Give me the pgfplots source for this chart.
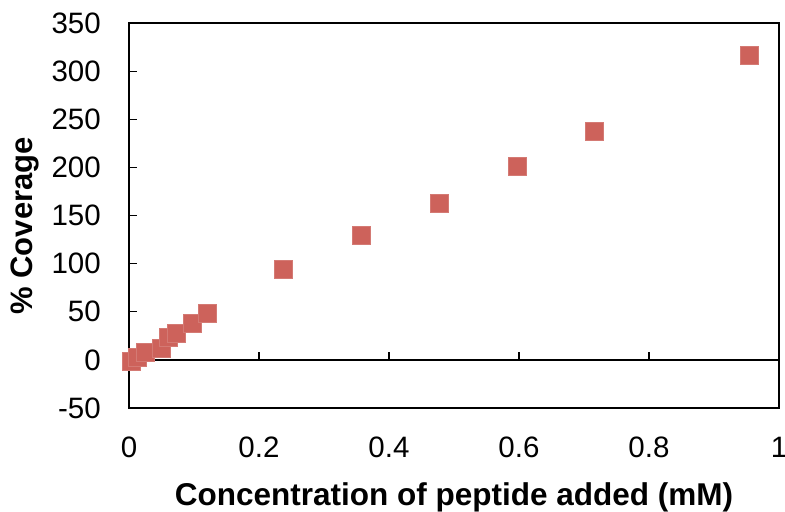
\documentclass[border=0pt]{standalone}
\usepackage{pgfplots}
\pgfplotsset{compat=1.18}
\usepackage{fontspec}
\setmainfont{Liberation Sans}
\definecolor{markred}{RGB}{205,98,91}

\begin{document}
\begin{tikzpicture}
\path[use as bounding box] (-129bp,-104bp) rectangle (656bp,408bp);
\begin{axis}[
  at={(0,0)}, anchor=south west,
  scale only axis,
  width=650bp, height=385bp,
  xmin=0, xmax=1, ymin=-50, ymax=350,
  xtick={0,0.2,0.4,0.6,0.8,1},
  ytick={-50,0,50,100,150,200,250,300,350},
  xticklabels={0,0.2,0.4,0.6,0.8,1},
  axis line style={line width=1.4bp},
  every tick/.style={black, line width=1.2bp},
  x tick style={draw=none},
  ytick pos=left,
  tick align=inside,
  major tick length=8bp,
  /pgf/number format/assume math mode=true,
  every tick label/.append style={font=\fontsize{29.5bp}{32bp}\selectfont, inner sep=0pt},
  xticklabel style={anchor=north, yshift=-29bp},
  yticklabel style={anchor=east, xshift=-28bp},
  xlabel={\textbf{Concentration of peptide added (mM)}},
  ylabel={\textbf{\% Coverage}},
  every axis x label/.style={at={(axis description cs:0.5,-0.252)}, anchor=base,
    font=\fontsize{31.5bp}{34bp}\selectfont},
  every axis y label/.style={at={(axis description cs:-0.1477,0.473)}, anchor=base, rotate=90,
    font=\fontsize{31bp}{34bp}\selectfont},
  clip=false,
]
% zero line with upward ticks
\draw[line width=1.4bp] (axis cs:0,0) -- (axis cs:1,0);
\draw[line width=1.2bp] (axis cs:0.2,0) -- ([yshift=8bp]axis cs:0.2,0);
\draw[line width=1.2bp] (axis cs:0.4,0) -- ([yshift=8bp]axis cs:0.4,0);
\draw[line width=1.2bp] (axis cs:0.6,0) -- ([yshift=8bp]axis cs:0.6,0);
\draw[line width=1.2bp] (axis cs:0.8,0) -- ([yshift=8bp]axis cs:0.8,0);
\addplot[only marks, mark=square*, mark size=9bp,
  mark options={fill=markred, draw=markred!85!white, line width=0.5bp}]
  table {
x y
0.003 -1
0.012 3
0.025 8
0.049 12.5
0.060 23
0.072 28
0.097 38.5
0.120 48
0.238 94.5
0.358 130
0.477 163
0.597 201
0.715 237.5
0.954 316.5
};
\end{axis}
\end{tikzpicture}
\end{document}
